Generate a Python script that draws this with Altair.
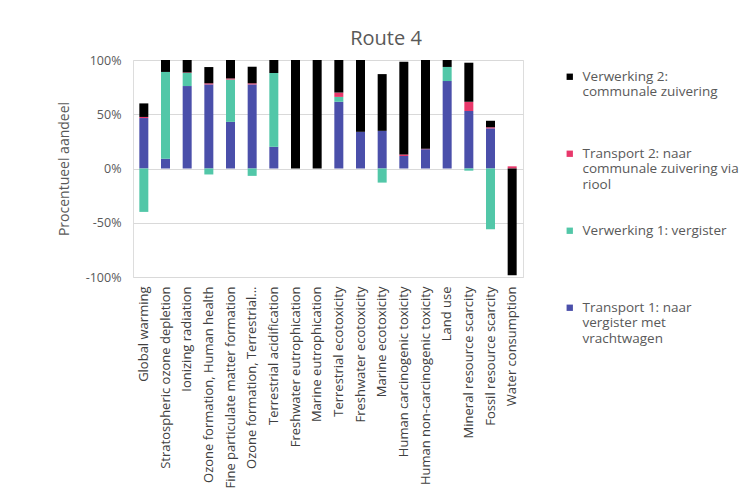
import altair as alt
import pandas as pd

categories = [
    "Global warming",
    "Stratospheric ozone depletion",
    "Ionizing radiation",
    "Ozone formation, Human health",
    "Fine particulate matter formation",
    "Ozone formation, Terrestrial...",
    "Terrestrial acidification",
    "Freshwater eutrophication",
    "Marine eutrophication",
    "Terrestrial ecotoxicity",
    "Freshwater ecotoxicity",
    "Marine ecotoxicity",
    "Human carcinogenic toxicity",
    "Human non-carcinogenic toxicity",
    "Land use",
    "Mineral resource scarcity",
    "Fossil resource scarcity",
    "Water consumption",
]

series_lines = [
    ["Transport 1: naar", "vergister met", "vrachtwagen"],
    ["Verwerking 1: vergister"],
    ["Transport 2: naar", "communale zuivering via", "riool"],
    ["Verwerking 2:", "communale zuivering"],
]
series_colors = ["#4A4FAA", "#52C7A8", "#E8386B", "#000000"]

transport1 = [46.5, 9, 76, 77.5, 43, 77.5, 20, 0, 0, 61.5, 33.8, 34.7, 11.5, 17.8, 80.6, 53, 37, 0]
verwerking1 = [-40, 80, 12, -5.5, 39, -6.8, 68, 0, 0, 4.5, 0, -13, 0, 0, 13, -2, -56, 0]
transport2 = [1, 0, 0.5, 1, 1, 1, 0, 0, 0, 4, 0, 0, 1.5, 0.5, 0, 8.5, 1, 2]
verwerking2 = [12.5, 11, 11.5, 15, 17, 15.3, 12, 100, 100, 30, 66.2, 52.3, 85.5, 81.7, 6.4, 36, 6, -98.5]

values = [transport1, verwerking1, transport2, verwerking2]

# legend labels padded to three lines so the entries are evenly spaced
series_names = ["|".join(lines + [" "] * (3 - len(lines))) for lines in series_lines]

rows = []
for si, (name, vals) in enumerate(zip(series_names, values)):
    for cat, v in zip(categories, vals):
        rows.append({"categorie": cat, "reeks": name, "volgorde": si, "aandeel": v / 100.0})
df = pd.DataFrame(rows)

legend_order = series_names[::-1]
legend_colors = series_colors[::-1]

FONT = "Open Sans"
GREY = "#595959"

chart = (
    alt.Chart(df)
    .mark_bar(size=9)
    .encode(
        x=alt.X(
            "categorie:N",
            sort=categories,
            title=None,
            axis=alt.Axis(
                labelAngle=-90,
                labelFontSize=13,
                labelColor="#404040",
                labelFont=FONT,
                labelPadding=9,
                labelLimit=400,
                domain=False,
                ticks=False,
                grid=False,
            ),
        ),
        y=alt.Y(
            "sum(aandeel):Q",
            stack="zero",
            scale=alt.Scale(domain=[-1, 1], nice=False),
            title="Procentueel aandeel",
            axis=alt.Axis(
                values=[-1, -0.5, 0, 0.5, 1],
                labelExpr="round(datum.value*100) + '%'",
                labelFontSize=12.5,
                labelColor=GREY,
                labelFont=FONT,
                labelPadding=12,
                titleFontSize=14,
                titleFontWeight="normal",
                titleColor=GREY,
                titleFont=FONT,
                titlePadding=14,
                domain=False,
                ticks=False,
                gridColor="#D9D9D9",
                gridWidth=1,
            ),
        ),
        color=alt.Color(
            "reeks:N",
            scale=alt.Scale(domain=legend_order, range=legend_colors),
            legend=alt.Legend(
                title=None,
                orient="none",
                legendX=430,
                legendY=10,
                symbolType="square",
                symbolSize=40,
                symbolStrokeWidth=0,
                labelFontSize=13.5,
                labelFont=FONT,
                labelColor=GREY,
                labelLimit=400,
                labelOffset=6,
                rowPadding=31,
                labelExpr="split(datum.label, '|')",
            ),
        ),
        order=alt.Order("volgorde:Q", sort="ascending"),
    )
    .properties(
        width=390,
        height=217,
        title=alt.TitleParams(
            "Route 4",
            fontSize=20,
            font=FONT,
            fontWeight="normal",
            color=GREY,
            anchor="middle",
            dx=58,
            offset=5,
        ),
        autosize=alt.AutoSizeParams(type="none"),
        padding={"left": 125, "top": 52, "right": 222, "bottom": 218},
    )
    .configure_view(stroke=None)
    .configure(background="white")
)

chart.save("out.html", embed_options={"renderer": "svg", "actions": False})
